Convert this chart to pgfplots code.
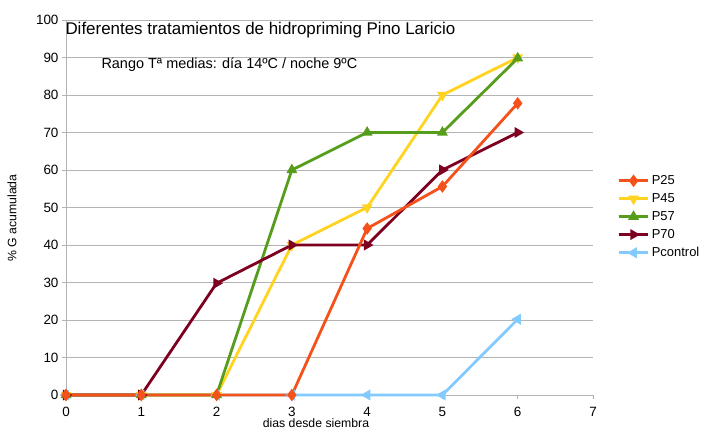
\documentclass[border=0pt]{standalone}
\usepackage{fontspec}
\setmainfont{Liberation Sans}
\usepackage{pgfplots}
\pgfplotsset{compat=1.18}
\definecolor{cP25}{HTML}{F5511A}
\definecolor{cP45}{HTML}{FFD320}
\definecolor{cP57}{HTML}{579D1C}
\definecolor{cP70}{HTML}{7E0021}
\definecolor{cPc}{HTML}{83CAFF}
\definecolor{gridgray}{HTML}{B3B3B3}
\begin{document}
\begin{tikzpicture}
\useasboundingbox (0,0) rectangle (710bp,433bp);
\begin{axis}[
    at={(66bp,38bp)}, anchor=south west,
    scale only axis, width=527bp, height=375bp,
    xmin=0, xmax=7, ymin=0, ymax=100,
    xtick={0,...,7}, ytick={0,10,...,100},
    axis lines*=left,
    axis line style={gridgray, line width=0.8bp},
    ymajorgrids, major grid style={gridgray, line width=0.8bp},
    tick style={gridgray, line width=0.8bp},
    tick align=outside, major tick length=4bp,
    clip=false,
    ticklabel style={font=\fontsize{13.5}{15}\selectfont},
    xticklabel style={yshift=-5bp},
    /pgf/number format/assume math mode=true,
    every axis plot/.append style={line width=2.8bp, mark size=3.6bp},
    legend style={at={(rel axis cs:1.04,0.475)}, anchor=west, draw=none,
        font=\fontsize{13}{15}\selectfont, row sep=3.5bp,
        /tikz/every even column/.append style={column sep=2bp}},
    legend cell align=left,
    legend image code/.code={
        \draw[#1] (0cm,0cm) -- (1.05cm,0cm);
        \draw[#1, mark repeat=2, mark phase=2] plot coordinates {(0cm,0cm) (0.525cm,0cm) (1.05cm,0cm)};},
]
\addlegendimage{cP25, mark=diamond*, mark size=4bp}
\addlegendimage{cP45, mark=triangle*, mark options={rotate=180}}
\addlegendimage{cP57, mark=triangle*}
\addlegendimage{cP70, mark=triangle*, mark options={rotate=-90}}
\addlegendimage{cPc, mark=triangle*, mark options={rotate=90}}
\legend{P25,P45,P57,P70,Pcontrol}
\addplot[cPc, mark=triangle*, mark options={rotate=90}, forget plot] coordinates {
    (0,0) (1,0) (2,0) (3,0) (4,0) (5,0) (6,20.2)};
\addplot[cP45, mark=triangle*, mark options={rotate=180}, forget plot] coordinates {
    (0,0) (1,0) (2,0) (3,40) (4,50) (5,80) (6,90)};
\addplot[cP57, mark=triangle*, forget plot] coordinates {
    (0,0) (1,0) (2,0) (3,60) (4,70) (5,70) (6,89.8)};
\addplot[cP70, mark=triangle*, mark options={rotate=-90}, forget plot] coordinates {
    (0,0) (1,0) (2,29.8) (3,40) (4,40) (5,60) (6,70)};
\addplot[cP25, mark=diamond*, mark size=4bp, forget plot] coordinates {
    (0,0) (1,0) (2,0) (3,0) (4,44.4) (5,55.6) (6,77.8)};
\end{axis}
\node[anchor=west, font=\fontsize{17}{20}\selectfont] at (62bp,403bp)
    {Diferentes tratamientos de hidropriming Pino Laricio};
\node[anchor=west, font=\fontsize{14.5}{17}\selectfont] at (98bp,368bp)
    {Rango Tª medias: día 14ºC / noche 9ºC};
\node[rotate=90, font=\fontsize{12.3}{14}\selectfont] at (12bp,215bp) {\% G acumulada};
\node[font=\fontsize{12.3}{14}\selectfont] at (316bp,10bp) {dias desde siembra};
\end{tikzpicture}
\end{document}
